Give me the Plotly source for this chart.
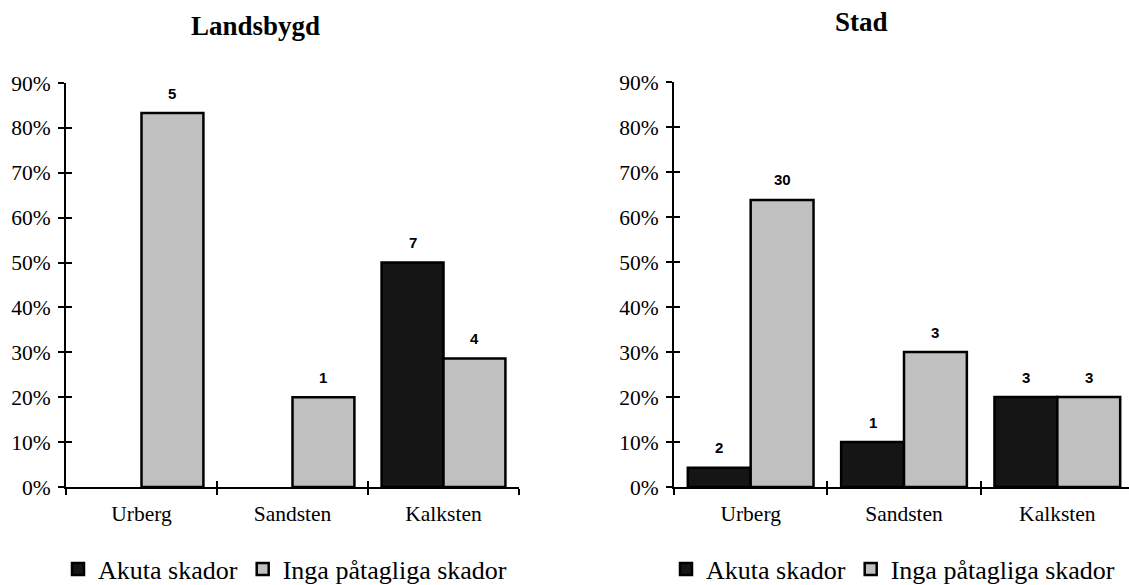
import plotly.graph_objects as go

# Rock types on the x axis
categories = ["Urberg", "Sandsten", "Kalksten"]

# Share of sites (%) per damage class, rural areas
land_akuta_pct = [None, None, 50.0]
land_inga_pct = [83.3, 20.0, 28.6]
# Number of sites behind each bar
land_akuta_n = [None, None, 7]
land_inga_n = [5, 1, 4]

# Share of sites (%) per damage class, urban areas
stad_akuta_pct = [4.3, 10.0, 20.0]
stad_inga_pct = [63.8, 30.0, 20.0]
stad_akuta_n = [2, 1, 3]
stad_inga_n = [30, 3, 3]

series_names = ["Akuta skador", "Inga påtagliga skador"]
panel_titles = ["Landsbygd", "Stad"]
y_ticks = [0, 10, 20, 30, 40, 50, 60, 70, 80, 90]
y_tick_text = [f"{v}%" for v in y_ticks]

W, H = 1129, 585
BLACK = "#151515"
GREY = "#c0c0c0"
SERIF = "Liberation Serif, Times New Roman, serif"
SANS = "Liberation Sans, Arial, sans-serif"
BARGAP = 0.18


def px_x(v):
    return v / W


def px_y(v):
    return 1 - v / H


fig = go.Figure()

panels = [
    dict(xa="x", ya="y", legend="legend",
         akuta=land_akuta_pct, inga=land_inga_pct,
         akuta_n=land_akuta_n, inga_n=land_inga_n),
    dict(xa="x2", ya="y2", legend="legend2",
         akuta=stad_akuta_pct, inga=stad_inga_pct,
         akuta_n=stad_akuta_n, inga_n=stad_inga_n),
]

for p in panels:
    for name, vals, color in [(series_names[0], p["akuta"], BLACK),
                              (series_names[1], p["inga"], GREY)]:
        fig.add_trace(go.Bar(
            x=categories, y=vals, name=name,
            xaxis=p["xa"], yaxis=p["ya"], legend=p["legend"],
            marker=dict(color=color, line=dict(color="black", width=2.5)),
            hoverinfo="skip",
        ))

# Count labels above each bar
half = (1 - BARGAP) / 4
for p in panels:
    for offset, vals, counts in [(-half, p["akuta"], p["akuta_n"]),
                                 (half, p["inga"], p["inga_n"])]:
        for i, (v, n) in enumerate(zip(vals, counts)):
            if v is None or n is None:
                continue
            fig.add_annotation(
                x=i + offset, y=v, xref=p["xa"], yref=p["ya"],
                text=f"<b>{n}</b>", showarrow=False,
                yanchor="middle", yshift=20,
                font=dict(family=SANS, size=15, color="black"),
            )

# Empty traces that carry the inward half of the crossing tick marks
fig.add_trace(go.Scatter(x=[], y=[], xaxis="x3", yaxis="y3", showlegend=False))
fig.add_trace(go.Scatter(x=[], y=[], xaxis="x4", yaxis="y4", showlegend=False))

axis_font = dict(family=SERIF, size=21.5, color="black")

left_dom = [px_x(66), px_x(519)]
right_dom = [px_x(674), 1.0]
right_range = [-0.5, -0.5 + (W - 674) / ((1134 - 674) / 3)]
y_dom_left = [px_y(487), px_y(83)]
y_dom_right = [px_y(487), px_y(82)]

common_x = dict(type="category", showline=True, linecolor="black", linewidth=2,
                ticks="outside", ticklen=6, tickwidth=2, tickcolor="black",
                tickson="boundaries", showgrid=False, zeroline=False,
                tickfont=axis_font, ticklabelstandoff=6)
common_y = dict(range=[0, 90], tickvals=y_ticks, ticktext=y_tick_text,
                showline=True, linecolor="black", linewidth=2,
                ticks="outside", ticklen=6, tickwidth=2, tickcolor="black",
                showgrid=False, zeroline=False, tickfont=axis_font,
                ticklabelstandoff=3)
inner_x = dict(type="linear", showline=False, ticks="inside", ticklen=6,
               tickwidth=2, tickcolor="black", showticklabels=False,
               showgrid=False, zeroline=False,
               tickvals=[-0.5, 0.5, 1.5, 2.5])
inner_y = dict(range=[0, 90], tickvals=y_ticks, showline=False, ticks="inside",
               ticklen=6, tickwidth=2, tickcolor="black", showticklabels=False,
               showgrid=False, zeroline=False)

legend_font = dict(family=SERIF, size=26, color="black")
legend_common = dict(orientation="h", xanchor="left", yanchor="middle",
                     y=px_y(569), itemwidth=30, font=legend_font,
                     bgcolor="rgba(0,0,0,0)", traceorder="normal")

fig.update_layout(
    width=W, height=H,
    margin=dict(l=0, r=0, t=0, b=0, autoexpand=False),
    paper_bgcolor="white", plot_bgcolor="rgba(0,0,0,0)",
    barmode="group", bargap=BARGAP, bargroupgap=0,
    xaxis=dict(domain=left_dom, anchor="y", range=[-0.5, 2.5], **common_x),
    yaxis=dict(domain=y_dom_left, anchor="x", **common_y),
    xaxis2=dict(domain=right_dom, anchor="y2", range=right_range, **common_x),
    yaxis2=dict(domain=y_dom_right, anchor="x2", **common_y),
    xaxis3=dict(overlaying="x", anchor="y", range=[-0.5, 2.5], **inner_x),
    yaxis3=dict(overlaying="y", anchor="x", **inner_y),
    xaxis4=dict(overlaying="x2", anchor="y2", range=right_range, **inner_x),
    yaxis4=dict(overlaying="y2", anchor="x2", **inner_y),
    legend=dict(x=px_x(58), **legend_common),
    legend2=dict(x=px_x(666), **legend_common),
    showlegend=True,
)

# Panel headings
for title, cx, cy in [(panel_titles[0], 255, 26), (panel_titles[1], 861, 22)]:
    fig.add_annotation(
        x=px_x(cx), y=px_y(cy), xref="paper", yref="paper",
        text=f"<b>{title}</b>", showarrow=False,
        xanchor="center", yanchor="middle",
        font=dict(family=SERIF, size=27, color="black"),
    )

fig.write_html("out.html")
